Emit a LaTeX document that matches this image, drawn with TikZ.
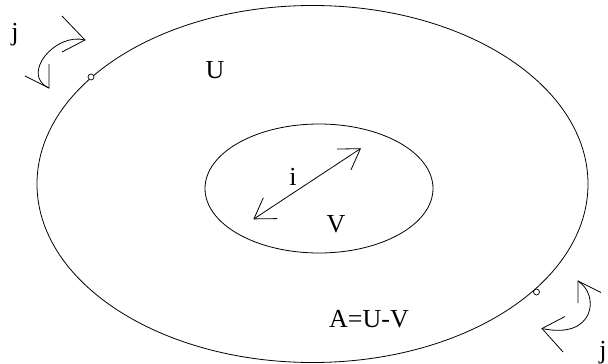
\documentclass[tikz,border=0pt]{standalone}
\usepackage{fontspec}
\setmainfont{Liberation Serif}
\usetikzlibrary{arrows.meta}
\tikzset{
  line/.style={line width=0.8pt},
  lbl/.style={anchor=base, inner sep=0pt, font=\fontsize{26}{30}\selectfont},
  barb/.style={line, {Straight Barb[length=19.5pt,width=25pt,line width=0.8pt]}-{Straight Barb[length=19.5pt,width=25pt,line width=0.8pt]}},
  dot/.style={circle, draw, line width=0.7pt, minimum size=6pt, inner sep=0pt, fill=white}
}
\begin{document}
\begin{tikzpicture}[x=1pt,y=-1pt]
\useasboundingbox (0,0) rectangle (608,364);
% outer and inner regions
\draw[line] (312.5,184) ellipse [x radius=275.5, y radius=178.5];
\draw[line] (319,188.5) ellipse [x radius=114, y radius=64.5];
% labels
\node[lbl] (U) at (215,78) {U};
\node[lbl] (A) at (369,327) {A=U-V};
\node[lbl] (i) at (293,185) {i};
\node[lbl] (V) at (336,232) {V};
\node[lbl] (j1) at (15,40) {j};
\node[lbl] (j2) at (603,358) {j};
% double arrow i
\coordinate (ia) at (253.3,219.3);
\coordinate (ib) at (361,148.3);
\draw[barb] (ia) -- (ib);
% points on boundary
\node[dot] (p1) at (91,77) {};
\node[dot] (p2) at (536.5,292) {};
% upper-left curved arrow
\coordinate (t1) at (85,40);
\coordinate (t2) at (49,88);
\draw[line] (t1) .. controls (55,32) and (20,75) .. (t2);
\draw[line] (62,16) -- (t1) -- (62,52);
\draw[line] (25,76) -- (t2) -- (49,64);
% lower-right curved arrow
\coordinate (s1) at (578,281);
\coordinate (s2) at (542,328.5);
\draw[line] (s1) .. controls (600,295) and (595,340) .. (s2);
\draw[line] (578,303) -- (s1) -- (601,292.5);
\draw[line] (565,316.5) -- (s2) -- (563,352);
\end{tikzpicture}
\end{document}
